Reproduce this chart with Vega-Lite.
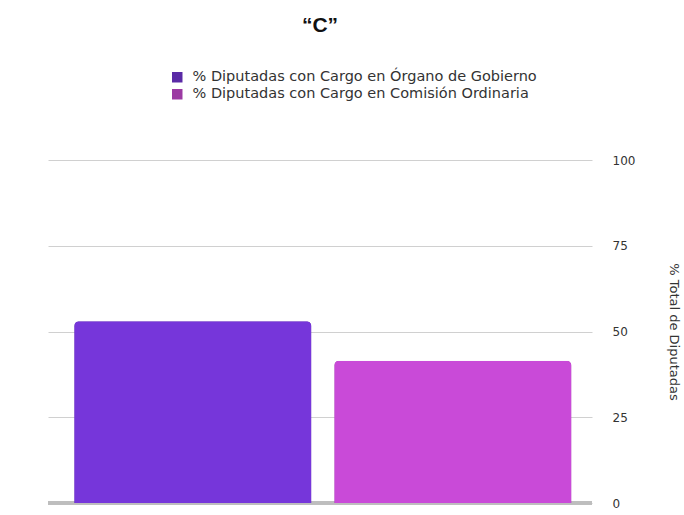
{
  "$schema": "https://vega.github.io/schema/vega-lite/v6.json",
  "autosize": {"type": "none"},
  "width": 544,
  "height": 343,
  "padding": {"left": 48, "top": 160, "right": 92, "bottom": 12},
  "background": "white",
  "config": {"view": {"stroke": null}},
  "title": {"text": "“C”", "fontSize": 21, "fontWeight": "bold", "font": "Liberation Sans", "color": "#111", "offset": 34, "anchor": "middle"},
  "data": {"values": [
    {"serie": "% Diputadas con Cargo en Órgano de Gobierno", "valor": 53},
    {"serie": "% Diputadas con Cargo en Comisión Ordinaria", "valor": 41.5}
  ]},
  "layer": [
    {
      "mark": {"type": "rule", "color": "#bbbbbb", "strokeWidth": 4, "opacity": 0.8},
      "encoding": {"y": {"datum": 0, "type": "quantitative", "scale": {"domain": [0, 100]},
                   "axis": {"orient": "right", "values": [0, 25, 50, 75, 100], "grid": true, "gridColor": "#d0d0d0",
                   "domain": false, "ticks": false, "labelPadding": 20, "labelFont": "DejaVu Sans",
                   "labelFontSize": 12, "labelColor": "#333", "title": "% Total de Diputadas",
                   "titleAngle": 90, "titleFont": "DejaVu Sans", "titleFontSize": 13,
                   "titleFontWeight": "normal", "titleColor": "#333", "titlePadding": 32}}}
    },
    {
      "mark": {"type": "bar", "cornerRadiusTopLeft": 5, "cornerRadiusTopRight": 5},
      "encoding": {
        "x": {"field": "serie", "type": "nominal", "sort": null, "axis": null,
              "scale": {"paddingInner": 0.088, "paddingOuter": 0.09, "align": 0.56}},
        "y": {"field": "valor", "type": "quantitative"},
        "color": {"field": "serie", "type": "nominal", "sort": null,
                  "scale": {"range": ["#5a2aa6", "#9c3aa3"]},
                  "legend": {"title": null, "orient": "none", "legendX": 122, "legendY": -90,
                             "symbolType": "square", "symbolSize": 110, "labelFont": "DejaVu Sans",
                             "labelFontSize": 14.5, "labelColor": "#333", "rowPadding": 2, "symbolStrokeWidth": 0,
                             "labelLimit": 500, "labelOffset": 8}}
      }
    },
    {
      "mark": {"type": "bar", "cornerRadiusTopLeft": 5, "cornerRadiusTopRight": 5},
      "encoding": {
        "x": {"field": "serie", "type": "nominal", "sort": null},
        "y": {"field": "valor", "type": "quantitative"},
        "fill": {"field": "serie", "type": "nominal", "sort": null,
                 "scale": {"range": ["#7636da", "#c94ad8"]}, "legend": null}
      }
    }
  ]
}
